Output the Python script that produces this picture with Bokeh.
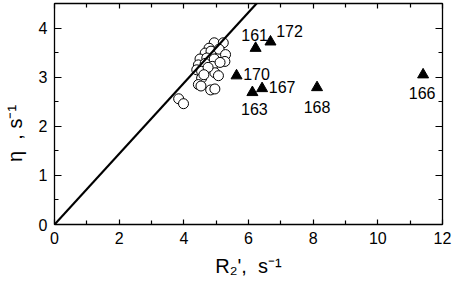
from bokeh.plotting import figure
from bokeh.models import ColumnDataSource, Range1d, LinearAxis, FixedTicker
from bokeh.embed import file_html
from bokeh.resources import INLINE
from bokeh.core.properties import value

# ---------------- data ----------------
circle_r2 = [4.94, 5.22, 4.78, 4.66, 4.84, 5.09, 5.29, 4.50, 4.71, 4.94, 5.27, 4.45, 4.66, 4.88,
             4.40, 4.55, 4.96, 5.07, 4.55, 4.45, 4.53, 4.83, 4.96, 3.84, 3.99, 4.75, 5.12, 4.62]
circle_eta = [3.70, 3.70, 3.59, 3.49, 3.53, 3.57, 3.46, 3.37, 3.39, 3.37, 3.32, 3.25, 3.28, 3.22,
              3.15, 3.12, 3.09, 3.03, 2.98, 2.85, 2.82, 2.74, 2.76, 2.56, 2.46, 3.20, 3.30, 3.05]

tri_r2 = [6.22, 6.68, 5.63, 6.42, 6.12, 8.12, 11.40]
tri_eta = [3.59, 3.72, 3.03, 2.77, 2.69, 2.79, 3.05]
tri_labels = ["161", "172", "170", "167", "163", "168", "166"]

fit_slope = 0.72
fit_r2 = [0.0, 12.0]

x_ticks = [0, 2, 4, 6, 8, 10, 12]
y_ticks = [0, 1, 2, 3, 4]

NB = "\u00a0"
x_title = "R\u2082'," + NB + NB + "s\u207b\u00b9"
y_title = "\u03b7" + NB + NB + "," + NB + "s\u207b\u00b9" + NB * 7

# label placement (screen px, relative to each triangle)
lab_dx = [-1, 19, 20, 20, 2, 0, -1]
lab_dy = [-13, -11, -2, -1, 17, 20, 18]

FONT = "Liberation Sans"

p = figure(width=454, height=281, x_range=Range1d(0, 12), y_range=Range1d(0, 4.5),
           output_backend="svg", toolbar_location=None,
           min_border_left=52, min_border_right=12, min_border_top=3, min_border_bottom=57)
p.xgrid.visible = False
p.ygrid.visible = False
p.outline_line_color = "black"
p.background_fill_color = "white"
p.border_fill_color = "white"

x_minor = [v + 1 for v in x_ticks[:-1]]
y_minor = [v + 0.5 for v in y_ticks]


def style_axis(ax, ticks, minor, major_in, minor_in, labels=True):
    ax.ticker = FixedTicker(ticks=ticks, minor_ticks=minor)
    ax.axis_line_color = "black"
    ax.axis_line_width = 1.3
    ax.major_tick_line_color = "black"
    ax.minor_tick_line_color = "black"
    ax.major_tick_line_width = 1.2
    ax.minor_tick_line_width = 1.2
    ax.major_tick_in = major_in
    ax.major_tick_out = 0
    ax.minor_tick_in = minor_in
    ax.minor_tick_out = 0
    if labels:
        ax.major_label_text_font = FONT
        ax.major_label_text_font_size = "16px"
        ax.major_label_text_color = "black"
        ax.major_label_standoff = 7
        ax.axis_label_text_font = FONT
        ax.axis_label_text_font_size = "20px"
        ax.axis_label_text_font_style = "normal"
        ax.axis_label_text_color = "black"
    else:
        ax.major_label_text_font_size = "0px"
        ax.major_label_text_alpha = 0
        ax.major_label_standoff = 0


style_axis(p.xaxis[0], x_ticks, x_minor, 5, 4)
style_axis(p.yaxis[0], y_ticks, y_minor, 7, 4)
p.xaxis[0].axis_label = x_title
p.xaxis[0].axis_label_standoff = 8
p.yaxis[0].axis_label = y_title
p.yaxis[0].axis_label_standoff = 10

top = LinearAxis()
style_axis(top, x_ticks, x_minor, 5, 4, labels=False)
p.add_layout(top, "above")
right = LinearAxis()
style_axis(right, y_ticks, y_minor, 7, 4, labels=False)
p.add_layout(right, "right")

# circles
p.scatter(circle_r2, circle_eta, marker="circle", size=10, fill_color="white",
          line_color="black", line_width=1)

# fit line through origin
p.line(fit_r2, [fit_slope * v for v in fit_r2], line_color="black", line_width=2.2)

# triangles
src = ColumnDataSource(dict(x=tri_r2, y=tri_eta, t=tri_labels, dx=lab_dx, dy=lab_dy))
p.scatter("x", "y", source=src, marker="triangle", size=11, fill_color="black", line_color="black")
p.text("x", "y", text="t", source=src, x_offset="dx", y_offset="dy",
       text_font=value(FONT), text_font_size="16px", text_color="black",
       text_align="center", text_baseline="middle")

open("out.html", "w").write(file_html(p, INLINE))
